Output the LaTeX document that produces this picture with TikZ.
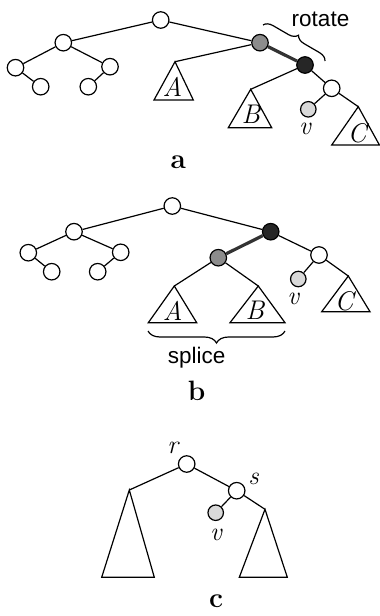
\documentclass[tikz,border=0pt]{standalone}
\usepackage{fontspec}
\newfontfamily\lsans{Liberation Sans}
\usetikzlibrary{decorations.pathreplacing}
\tikzset{
  tn/.style={circle,draw,line width=1.2pt,minimum size=16.5pt,inner sep=0pt,fill=white},
  gn/.style={tn,fill=black!45},
  dn/.style={tn,fill=black!85},
  vn/.style={tn,fill=black!15,minimum size=15.5pt},
  ed/.style={line width=1.2pt},
  thk/.style={line width=3.2pt,black!80},
  tri/.style={line width=1.2pt,line join=miter},
  lett/.style={inner sep=0pt,font=\fontsize{27}{30}\selectfont\itshape},
  vlab/.style={inner sep=0pt,font=\fontsize{26}{30}\selectfont\itshape},
  panel/.style={inner sep=0pt,font=\fontsize{28}{32}\selectfont\bfseries},
  word/.style={inner sep=0pt,font=\fontsize{22.5}{26}\selectfont\lsans},
  brc/.style={decorate,decoration={brace,amplitude=#1},line width=1.2pt},
}
\begin{document}
\begin{tikzpicture}[x=1pt,y=-1pt]
\useasboundingbox (0,0) rectangle (380,616);
% ---------- panel a ----------
\node[tn] (a0) at (160.7,20) {};
\node[tn] (a1) at (63.3,42.7) {};
\node[tn] (a2) at (15.5,67.7) {};
\node[tn] (a3) at (40.7,86.7) {};
\node[tn] (a4) at (110,66.7) {};
\node[tn] (a5) at (88.3,86.7) {};
\node[gn] (ag) at (260,42.7) {};
\node[dn] (ad) at (305,65) {};
\node[tn] (aw) at (331.7,88.3) {};
\node[vn] (av) at (308.3,109.3) {};
\node[vlab] (avl) at (305,129) {v};
\coordinate (aA) at (175,61.7);
\coordinate (aB) at (250.7,89.3);
\coordinate (aC) at (358.3,106.7);
\draw[tri] (aA) -- (154,100) -- (193.3,100) -- cycle;
\draw[tri] (aB) -- (228.3,127.7) -- (271.7,127.7) -- cycle;
\draw[tri] (aC) -- (331.7,145) -- (379.4,145) -- cycle;
\node[lett] (aAl) at (172.5,87) {A};
\node[lett] (aBl) at (251,114.5) {B};
\node[lett] (aCl) at (357,133.5) {C};
\draw[ed] (a0) -- (a1);
\draw[ed] (a0) -- (ag);
\draw[ed] (a1) -- (a2);
\draw[ed] (a1) -- (a4);
\draw[ed] (a2) -- (a3);
\draw[ed] (a4) -- (a5);
\draw[thk] (ag) -- (ad);
\draw[ed] (ag) -- (aA);
\draw[ed] (ad) -- (aB);
\draw[ed] (ad) -- (aw);
\draw[ed] (aw) -- (av);
\draw[ed] (aw) -- (aC);
\coordinate (rb1) at (263,25);
\coordinate (rb2) at (325,61);
\draw[brc=9pt] (rb1) -- (rb2);
\node[word] (rot) at (320.5,19) {rotate};
\node[panel] (la) at (178.3,162) {a};
% ---------- panel b ----------
\node[tn] (b0) at (172.3,206) {};
\node[tn] (b1) at (74,231.7) {};
\node[tn] (b2) at (28.3,252.7) {};
\node[tn] (b3) at (51.7,271.7) {};
\node[tn] (b4) at (120.7,252.3) {};
\node[tn] (b5) at (97.7,271.7) {};
\node[dn] (bd) at (270.7,231.7) {};
\node[gn] (bg) at (218.3,257.7) {};
\node[tn] (bw) at (319,255) {};
\node[vn] (bv) at (298.3,279) {};
\node[vlab] (bvl) at (293.3,299) {v};
\coordinate (bA) at (174.3,286);
\coordinate (bB) at (258.3,286);
\coordinate (bC) at (348.3,276);
\draw[tri] (bA) -- (148.3,322.7) -- (196.7,322.7) -- cycle;
\draw[tri] (bB) -- (230,322.7) -- (285,322.7) -- cycle;
\draw[tri] (bC) -- (321.7,311.7) -- (370,311.7) -- cycle;
\node[lett] (bAl) at (172.7,310.5) {A};
\node[lett] (bBl) at (255,310.5) {B};
\node[lett] (bCl) at (344,301.5) {C};
\draw[ed] (b0) -- (b1);
\draw[ed] (b0) -- (bd);
\draw[ed] (b1) -- (b2);
\draw[ed] (b1) -- (b4);
\draw[ed] (b2) -- (b3);
\draw[ed] (b4) -- (b5);
\draw[thk] (bd) -- (bg);
\draw[ed] (bg) -- (bA);
\draw[ed] (bg) -- (bB);
\draw[ed] (bd) -- (bw);
\draw[ed] (bw) -- (bv);
\draw[ed] (bw) -- (bC);
\coordinate (sb1) at (285,331);
\coordinate (sb2) at (148,331);
\draw[brc=12pt] (sb1) -- (sb2);
\node[word] (spl) at (196.7,358) {splice};
\node[panel] (lb) at (196.7,391) {b};
% ---------- panel c ----------
\node[tn] (cr) at (186.7,464) {};
\node[tn] (cs) at (236.7,490.7) {};
\node[vn] (cv) at (215.7,512.7) {};
\node[vlab] (crl) at (172.7,448) {r};
\node[vlab] (csl) at (253.5,479) {s};
\node[vlab] (cvl) at (216,535) {v};
\coordinate (cL) at (129.3,490);
\coordinate (cR) at (265,509.3);
\draw[tri] (cL) -- (101.7,577.3) -- (154.3,577.3) -- cycle;
\draw[tri] (cR) -- (239.3,577.3) -- (287.3,577.3) -- cycle;
\draw[ed] (cr) -- (cL);
\draw[ed] (cr) -- (cs);
\draw[ed] (cs) -- (cv);
\draw[ed] (cs) -- (cR);
\node[panel] (lc) at (216,601) {c};
\end{tikzpicture}
\end{document}
